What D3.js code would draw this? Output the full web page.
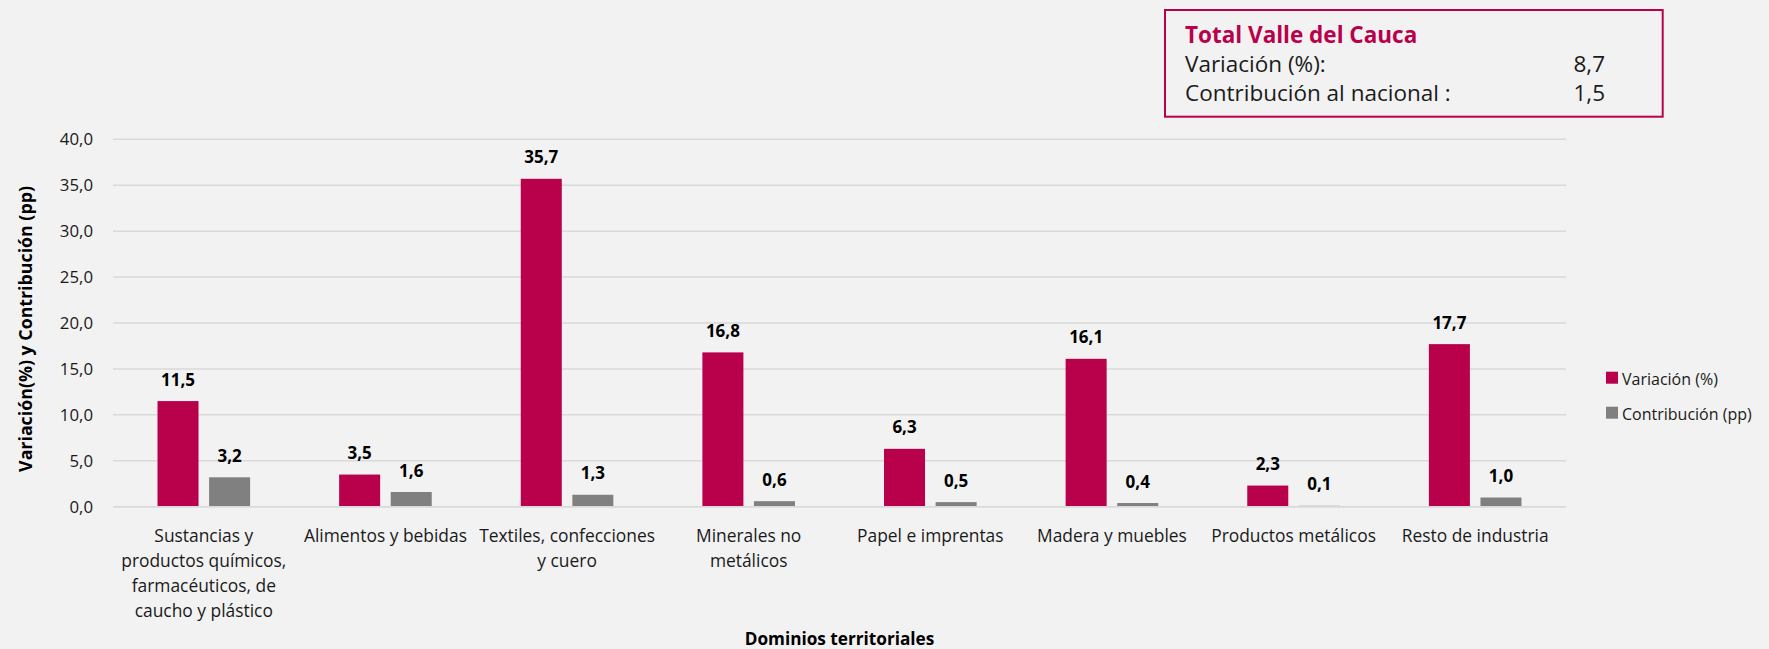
<!DOCTYPE html>
<html><head><meta charset="utf-8">
<script src="https://cdn.jsdelivr.net/npm/d3@7"></script>
<style>
html,body{margin:0;padding:0;background:#F2F2F2;}
svg{display:block;font-family:"Open Sans","Noto Sans",sans-serif;}
</style></head>
<body><svg id="c" width="1769" height="649"></svg>
<script>
const categories = [
  "Sustancias y\nproductos químicos,\nfarmacéuticos, de\ncaucho y plástico",
  "Alimentos y bebidas",
  "Textiles, confecciones\ny cuero",
  "Minerales no\nmetálicos",
  "Papel e imprentas",
  "Madera y muebles",
  "Productos metálicos",
  "Resto de industria"
];
const seriesNames = ["Variación (%)", "Contribución (pp)"];
const variacion = [11.5, 3.5, 35.7, 16.8, 6.3, 16.1, 2.3, 17.7];
const contribucion = [3.2, 1.6, 1.3, 0.6, 0.5, 0.4, 0.1, 1.0];
const yTicks = [0, 5, 10, 15, 20, 25, 30, 35, 40];
const totalTitle = "Total Valle del Cauca";
const totalRows = [["Variación (%):", "8,7"], ["Contribución al nacional :", "1,5"]];
const colors = ["#B9004B", "#808080"];

(function () {
const svg = d3.select("#c");
const fmt = v => d3.format(".1f")(v).replace(".", ",");
const pL = 113, pR = 1566, pT = 139.3, pB = 506.7;

const x0 = d3.scaleBand().domain(categories).range([pL, pR]).padding(0);
const x1 = d3.scaleBand().domain([0, 1]).range([-46.3, 46.3]).paddingInner(0.205);
const y = d3.scaleLinear().domain([0, 40]).range([pB, pT]);

svg.append("g").selectAll("line").data(yTicks).join("line")
  .attr("x1", pL).attr("x2", pR)
  .attr("y1", d => y(d)).attr("y2", d => y(d))
  .attr("stroke", "#D9D9D9").attr("stroke-width", 1.5);

const yAxis = d3.axisLeft(y).tickValues(yTicks).tickFormat(fmt).tickSize(0).tickPadding(0);
const ya = svg.append("g").attr("transform", `translate(93,0)`).call(yAxis);
ya.select(".domain").remove();
ya.selectAll("text").attr("font-size", 16.8).attr("fill", "#1a1a1a").attr("font-family", "Open Sans");

const data = categories.map((c, i) => ({c, vals: [variacion[i], contribucion[i]]}));
const g = svg.append("g").selectAll("g").data(data).join("g")
  .attr("transform", d => `translate(${x0(d.c) + x0.bandwidth() / 2},0)`);
g.selectAll("rect").data(d => d.vals.map((v, k) => ({v, k}))).join("rect")
  .attr("x", d => x1(d.k)).attr("width", x1.bandwidth())
  .attr("y", d => y(d.v)).attr("height", d => y(0) - y(d.v))
  .attr("fill", d => colors[d.k]);
g.selectAll("text.val").data(d => d.vals.map((v, k) => ({v, k}))).join("text")
  .attr("class", "val")
  .attr("x", d => x1(d.k) + x1.bandwidth() / 2).attr("y", d => y(d.v) - 15.5)
  .attr("text-anchor", "middle").attr("font-size", 17).attr("font-weight", "bold")
  .attr("fill", "#000").text(d => fmt(d.v));

svg.append("line").attr("x1", pL).attr("x2", pR).attr("y1", y(0)).attr("y2", y(0))
  .attr("stroke", "#D9D9D9").attr("stroke-width", 1.5);

const xl = svg.append("g");
categories.forEach(c => {
  const t = xl.append("text").attr("text-anchor", "middle").attr("font-size", 17.4).attr("fill", "#1a1a1a");
  c.split("\n").forEach((line, i) => {
    t.append("tspan").attr("x", x0(c) + x0.bandwidth() / 2).attr("y", 542 + i * 25).text(line);
  });
});

svg.append("text").attr("x", (pL + pR) / 2).attr("y", 645).attr("text-anchor", "middle")
  .attr("font-size", 17.2).attr("font-weight", "bold").attr("fill", "#000").text("Dominios territoriales");
svg.append("text").attr("transform", `translate(32,${(pT + pB) / 2 + 6}) rotate(-90)`)
  .attr("text-anchor", "middle").attr("font-size", 17.8).attr("font-weight", "bold").attr("fill", "#000")
  .text("Variación(%) y Contribución (pp)");

const lg = svg.append("g");
seriesNames.forEach((s, i) => {
  lg.append("rect").attr("x", 1606).attr("y", 371.7 + i * 35).attr("width", 12).attr("height", 12).attr("fill", colors[i]);
  lg.append("text").attr("x", 1622).attr("y", 384.5 + i * 35).attr("font-size", 16).attr("fill", "#1a1a1a").text(s);
});

const bx = svg.append("g");
bx.append("rect").attr("x", 1165).attr("y", 10).attr("width", 497.7).attr("height", 106.7)
  .attr("fill", "none").attr("stroke", "#B9004B").attr("stroke-width", 2);
bx.append("text").attr("x", 1185).attr("y", 43).attr("font-size", 22.5).attr("font-weight", "bold")
  .attr("fill", "#B9004B").text(totalTitle);
totalRows.forEach((r, i) => {
  bx.append("text").attr("x", 1185).attr("y", 72 + i * 28.5).attr("font-size", 22.5).attr("fill", "#1a1a1a").text(r[0]);
  bx.append("text").attr("x", 1605).attr("y", 72 + i * 28.5).attr("font-size", 22.5).attr("text-anchor", "end").attr("fill", "#1a1a1a").text(r[1]);
});
})();
</script></body></html>
